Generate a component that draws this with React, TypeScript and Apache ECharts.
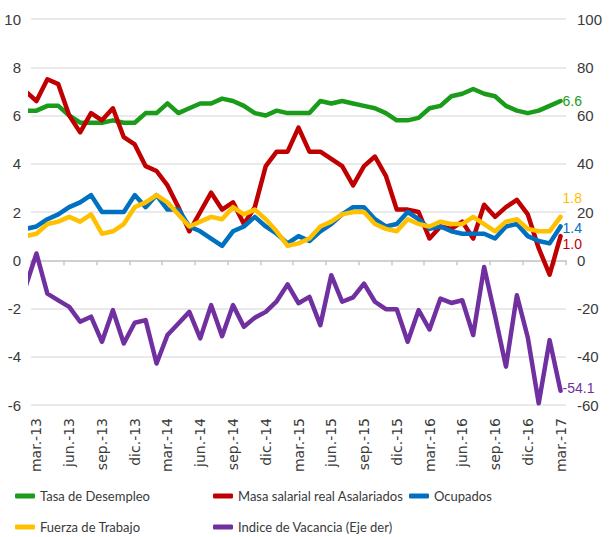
import React, { useEffect, useRef } from "react";
import * as echarts from "echarts";

// First entry (feb.-13) lies half a month outside the plot and is clipped by it.
const months = [
  "feb.-13", "mar.-13", "abr.-13", "may.-13", "jun.-13", "jul.-13", "ago.-13", "sep.-13", "oct.-13", "nov.-13", "dic.-13",
  "ene.-14", "feb.-14", "mar.-14", "abr.-14", "may.-14", "jun.-14", "jul.-14", "ago.-14", "sep.-14", "oct.-14", "nov.-14", "dic.-14",
  "ene.-15", "feb.-15", "mar.-15", "abr.-15", "may.-15", "jun.-15", "jul.-15", "ago.-15", "sep.-15", "oct.-15", "nov.-15", "dic.-15",
  "ene.-16", "feb.-16", "mar.-16", "abr.-16", "may.-16", "jun.-16", "jul.-16", "ago.-16", "sep.-16", "oct.-16", "nov.-16", "dic.-16",
  "ene.-17", "feb.-17", "mar.-17",
];

const tasaDesempleo = [
  6.2, 6.2, 6.4, 6.4, 6.0, 5.7, 5.7, 5.7, 5.8, 5.7, 5.7, 6.1, 6.1, 6.5, 6.1, 6.3, 6.5, 6.5,
  6.7, 6.6, 6.4, 6.1, 6.0, 6.2, 6.1, 6.1, 6.1, 6.6, 6.5, 6.6, 6.5, 6.4, 6.3, 6.1,
  5.8, 5.8, 5.9, 6.3, 6.4, 6.8, 6.9, 7.1, 6.9, 6.8, 6.4, 6.2, 6.1, 6.2, 6.4, 6.6,
];
const masaSalarial = [
  7.0, 6.6, 7.5, 7.3, 6.0, 5.3, 6.1, 5.8, 6.3, 5.1, 4.8, 3.9, 3.7, 3.1, 2.2, 1.2, 2.0, 2.8,
  2.1, 2.4, 1.5, 2.2, 3.9, 4.5, 4.5, 5.5, 4.5, 4.5, 4.2, 3.9, 3.1, 3.9, 4.3, 3.5,
  2.1, 2.1, 2.0, 0.9, 1.4, 1.3, 1.6, 0.9, 2.3, 1.8, 2.2, 2.5, 1.9, 0.5, -0.6, 1.0,
];
const ocupados = [
  1.3, 1.4, 1.7, 1.9, 2.2, 2.4, 2.7, 2.0, 2.0, 2.0, 2.7, 2.2, 2.7, 2.1, 2.1, 1.4, 1.2, 0.9,
  0.6, 1.2, 1.4, 1.8, 1.4, 1.1, 0.7, 1.0, 0.8, 1.2, 1.5, 1.9, 2.2, 2.2, 1.7, 1.4,
  1.5, 2.0, 1.7, 1.3, 1.4, 1.2, 1.1, 1.1, 1.1, 0.9, 1.4, 1.5, 1.0, 0.8, 0.7, 1.4,
];
const fuerzaTrabajo = [
  1.0, 1.1, 1.5, 1.6, 1.8, 1.6, 1.9, 1.1, 1.2, 1.5, 2.2, 2.4, 2.7, 2.4, 1.9, 1.4, 1.6, 1.8,
  1.7, 2.2, 1.9, 2.1, 1.7, 1.2, 0.6, 0.7, 0.9, 1.4, 1.6, 1.9, 2.0, 2.0, 1.5, 1.3,
  1.2, 1.7, 1.5, 1.4, 1.6, 1.5, 1.5, 1.8, 1.5, 1.2, 1.6, 1.7, 1.3, 1.2, 1.2, 1.8,
];
const indiceVacancia = [
  -11.0, 2.8, -13.8, -16.6, -19.3, -25.5, -23.4, -33.8, -20.7, -34.5, -25.9, -24.8, -42.8, -31.0, -26.2, -21.4, -32.4, -18.6,
  -31.5, -18.6, -27.6, -23.8, -21.4, -17.0, -10.0, -17.8, -15.2, -26.9, -6.2, -17.2, -15.4, -9.7, -17.2, -20.3,
  -20.3, -33.8, -20.7, -28.7, -15.9, -17.7, -16.6, -31.0, -2.8, -23.0, -44.1, -14.5, -32.0, -59.3, -33.1, -54.1,
];

const leftTicks = { min: -6, max: 10, interval: 2 };
const rightTicks = { min: -60, max: 100, interval: 20 };

const FONT = "'Liberation Sans', sans-serif";
const LEGEND_FONT = "Lato, 'Liberation Sans', sans-serif";
const TEXT = "#3a3a3a";

export default function App() {
  const ref = useRef<HTMLDivElement>(null);

  useEffect(() => {
    if (!ref.current) return;
    const chart = echarts.init(ref.current, undefined, { renderer: "svg" });
    const cats = months.slice(1);
    const toPairs = (arr: number[]) => arr.map((v, i) => [i - 1, v]);

    const mk = (name: string, data: number[], color: string, yAxisIndex: number, offset: number[]) => ({
      name,
      type: "line",
      xAxisIndex: 2,
      yAxisIndex,
      data: toPairs(data),
      symbol: "none",
      color,
      lineStyle: { width: 4.5, color, join: "round", cap: "round" },
      endLabel: {
        show: true,
        formatter: (p: any) => Number(p.value[1]).toFixed(1),
        color,
        fontSize: 14,
        fontFamily: FONT,
        distance: 2,
        offset,
      },
    });

    const lg = (name: string, left: number, top: number) => ({
      orient: "horizontal",
      left,
      top,
      padding: 0,
      itemWidth: 20,
      itemHeight: 5,
      icon: "roundRect",
      selectedMode: false,
      data: [name],
      textStyle: { color: TEXT, fontSize: 13, fontFamily: LEGEND_FONT, lineHeight: 16 },
    });

    chart.setOption({
      animation: false,
      backgroundColor: "#ffffff",
      grid: { left: 31, right: 44, top: 19, bottom: 132, containLabel: false },
      legend: [
        lg("Tasa de Desempleo", 15, 488),
        lg("Masa salarial real Asalariados", 213, 488),
        lg("Ocupados", 409, 488),
        lg("Fuerza de Trabajo", 15, 519),
        lg("Indice de Vacancia (Eje der)", 213, 519),
      ],
      xAxis: [
        {
          type: "category",
          data: cats,
          boundaryGap: true,
          axisLine: { show: true, onZero: true, onZeroAxisIndex: 0, lineStyle: { color: "#c8c8c8", width: 1.5 } },
          axisTick: { show: true, interval: 2, length: 5, lineStyle: { color: "#c8c8c8", width: 1.5 } },
          axisLabel: { show: false },
          splitLine: { show: false },
        },
        {
          type: "category",
          data: cats,
          position: "bottom",
          boundaryGap: true,
          axisLine: { show: false, onZero: false },
          axisTick: { show: false },
          axisLabel: {
            show: true,
            interval: 2,
            rotate: 90,
            margin: 13,
            color: TEXT,
            fontSize: 14,
            fontFamily: "'DejaVu Sans', sans-serif",
          },
          splitLine: { show: false },
        },
        {
          type: "value",
          min: -0.5,
          max: 48.5,
          show: false,
          splitLine: { show: false },
        },
      ],
      yAxis: [
        {
          type: "value",
          ...leftTicks,
          position: "left",
          axisLine: { show: false },
          axisTick: { show: false },
          axisLabel: { color: TEXT, fontSize: 15, fontFamily: FONT, margin: 10 },
          splitLine: { show: true, lineStyle: { color: "#e3e3e3", width: 1.5 } },
        },
        {
          type: "value",
          ...rightTicks,
          position: "right",
          axisLine: { show: false },
          axisTick: { show: false },
          axisLabel: { color: TEXT, fontSize: 15, fontFamily: FONT, margin: 11 },
          splitLine: { show: false },
        },
      ],
      series: [
        mk("Tasa de Desempleo", tasaDesempleo, "#1a9c1a", 0, [0, 0]),
        mk("Masa salarial real Asalariados", masaSalarial, "#c00000", 0, [0, 8]),
        mk("Ocupados", ocupados, "#0070c0", 0, [0, 2]),
        mk("Fuerza de Trabajo", fuerzaTrabajo, "#ffc000", 0, [0, -19]),
        mk("Indice de Vacancia (Eje der)", indiceVacancia, "#7030a0", 1, [0, -3]),
      ],
    });

    return () => chart.dispose();
  }, []);

  return (
    <div
      ref={ref}
      style={{ position: "fixed", left: 0, top: 0, width: 610, height: 537, background: "#fff" }}
    />
  );
}
